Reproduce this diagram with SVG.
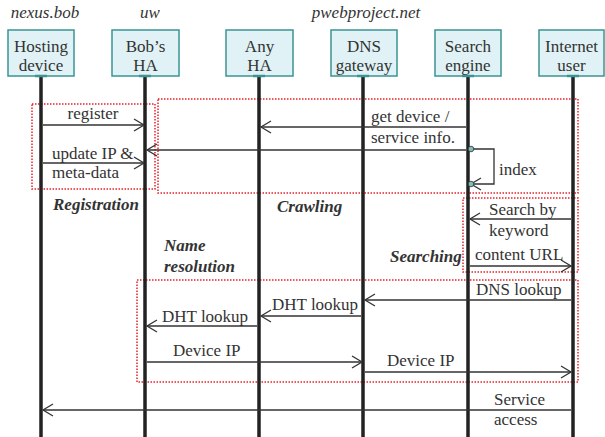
<svg xmlns="http://www.w3.org/2000/svg" width="605" height="437" viewBox="0 0 605 437">
<defs>
<marker id="ah" markerUnits="userSpaceOnUse" markerWidth="14" markerHeight="16" viewBox="-12 -8 14 16" refX="0" refY="0" orient="auto">
<path d="M-10,-6 L0,0 L-10,6" fill="none" stroke="#333" stroke-width="1.3"/>
</marker>
</defs>
<rect width="605" height="437" fill="#fff"/>
<g id="domains" font-family="Liberation Serif" font-size="17" fill="#333" font-style="italic" text-anchor="middle">
<text x="45" y="18">nexus.bob</text>
<text x="150" y="18">uw</text>
<text x="366" y="18">pwebproject.net</text>
</g>
<g id="groups" fill="none" stroke="#e8202a" stroke-width="1.5" stroke-dasharray="1.5 1.5">
<rect x="32" y="104" width="123" height="85"/>
<rect x="158" y="99" width="420" height="94"/>
<rect x="463" y="198" width="115" height="74"/>
<rect x="137" y="280" width="441" height="102"/>
</g>
<g id="group-labels" font-family="Liberation Serif" font-size="17" fill="#333" font-style="italic" font-weight="bold">
<text x="53" y="210">Registration</text>
<text x="277" y="212">Crawling</text>
<text x="390" y="262">Searching</text>
<text x="164" y="251">Name</text>
<text x="164" y="272">resolution</text>
</g>
<g id="lifelines" stroke="#222" stroke-width="3.5">
<line x1="41" y1="76" x2="41" y2="437"/>
<line x1="145" y1="76" x2="145" y2="437"/>
<line x1="259" y1="76" x2="259" y2="437"/>
<line x1="363" y1="76" x2="363" y2="437"/>
<line x1="468" y1="76" x2="468" y2="437"/>
<line x1="573" y1="76" x2="573" y2="437"/>
</g>
<g font-family="Liberation Serif" font-size="17" fill="#333" text-anchor="middle">
<g id="hosting">
<rect x="8" y="30" width="66" height="46" fill="#e0f2f5" stroke="#3a9494" stroke-width="1.5"/>
<line x1="35" y1="76" x2="47" y2="76" stroke="#3a9494" stroke-width="2.5"/>
<text x="41" y="52">Hosting</text>
<text x="41" y="71">device</text>
</g>
<g id="bobsha">
<rect x="112" y="30" width="67" height="46" fill="#e0f2f5" stroke="#3a9494" stroke-width="1.5"/>
<line x1="139" y1="76" x2="151" y2="76" stroke="#3a9494" stroke-width="2.5"/>
<text x="145.5" y="52">Bob’s</text>
<text x="145.5" y="71">HA</text>
</g>
<g id="anyha">
<rect x="226" y="30" width="67" height="46" fill="#e0f2f5" stroke="#3a9494" stroke-width="1.5"/>
<line x1="253" y1="76" x2="265" y2="76" stroke="#3a9494" stroke-width="2.5"/>
<text x="259.5" y="52">Any</text>
<text x="259.5" y="71">HA</text>
</g>
<g id="dns">
<rect x="331" y="30" width="66" height="46" fill="#e0f2f5" stroke="#3a9494" stroke-width="1.5"/>
<line x1="357" y1="76" x2="369" y2="76" stroke="#3a9494" stroke-width="2.5"/>
<text x="364" y="52">DNS</text>
<text x="364" y="71">gateway</text>
</g>
<g id="search">
<rect x="435" y="30" width="66" height="46" fill="#e0f2f5" stroke="#3a9494" stroke-width="1.5"/>
<line x1="462" y1="76" x2="474" y2="76" stroke="#3a9494" stroke-width="2.5"/>
<text x="468" y="52">Search</text>
<text x="468" y="71">engine</text>
</g>
<g id="user">
<rect x="539" y="30" width="65" height="46" fill="#e0f2f5" stroke="#3a9494" stroke-width="1.5"/>
<line x1="567" y1="76" x2="579" y2="76" stroke="#3a9494" stroke-width="2.5"/>
<text x="571.5" y="52">Internet</text>
<text x="571.5" y="71">user</text>
</g>
</g>
<g id="connectors" stroke="#333" stroke-width="1.3" fill="none">
<line x1="43" y1="125" x2="144" y2="125" marker-end="url(#ah)"/>
<line x1="466" y1="127" x2="261" y2="127" marker-end="url(#ah)"/>
<line x1="466" y1="150" x2="147" y2="150" marker-end="url(#ah)"/>
<line x1="43" y1="163" x2="144" y2="163" marker-end="url(#ah)"/>
<polyline points="470,149 494,149 494,184 471,184" marker-end="url(#ah)"/>
<line x1="571" y1="219" x2="470" y2="219" marker-end="url(#ah)"/>
<line x1="470" y1="266" x2="571" y2="266" marker-end="url(#ah)"/>
<line x1="571" y1="300" x2="365" y2="300" marker-end="url(#ah)"/>
<line x1="361" y1="316" x2="261" y2="316" marker-end="url(#ah)"/>
<line x1="257" y1="326" x2="147" y2="326" marker-end="url(#ah)"/>
<line x1="147" y1="362" x2="362" y2="362" marker-end="url(#ah)"/>
<line x1="365" y1="372" x2="571" y2="372" marker-end="url(#ah)"/>
<line x1="571" y1="410" x2="43" y2="410" marker-end="url(#ah)"/>
<circle cx="471" cy="149" r="2.8" fill="#7fbcbc" stroke-width="0.8"/>
<circle cx="471" cy="184" r="2.8" fill="#7fbcbc" stroke-width="0.8"/>
</g>
<g id="connector-labels" font-family="Liberation Serif" font-size="17" fill="#333">
<text x="93" y="119" text-anchor="middle">register</text>
<text x="371" y="122">get device /</text>
<text x="371" y="143">service info.</text>
<text x="52" y="159">update IP &amp;</text>
<text x="52" y="178">meta-data</text>
<text x="499" y="175">index</text>
<text x="489" y="215">Search by</text>
<text x="489" y="236">keyword</text>
<text x="475" y="260">content URL</text>
<text x="476" y="295">DNS lookup</text>
<text x="272" y="310">DHT lookup</text>
<text x="162" y="322">DHT lookup</text>
<text x="173" y="356">Device IP</text>
<text x="387" y="366">Device IP</text>
<text x="494" y="405">Service</text>
<text x="494" y="425">access</text>
</g>
</svg>
